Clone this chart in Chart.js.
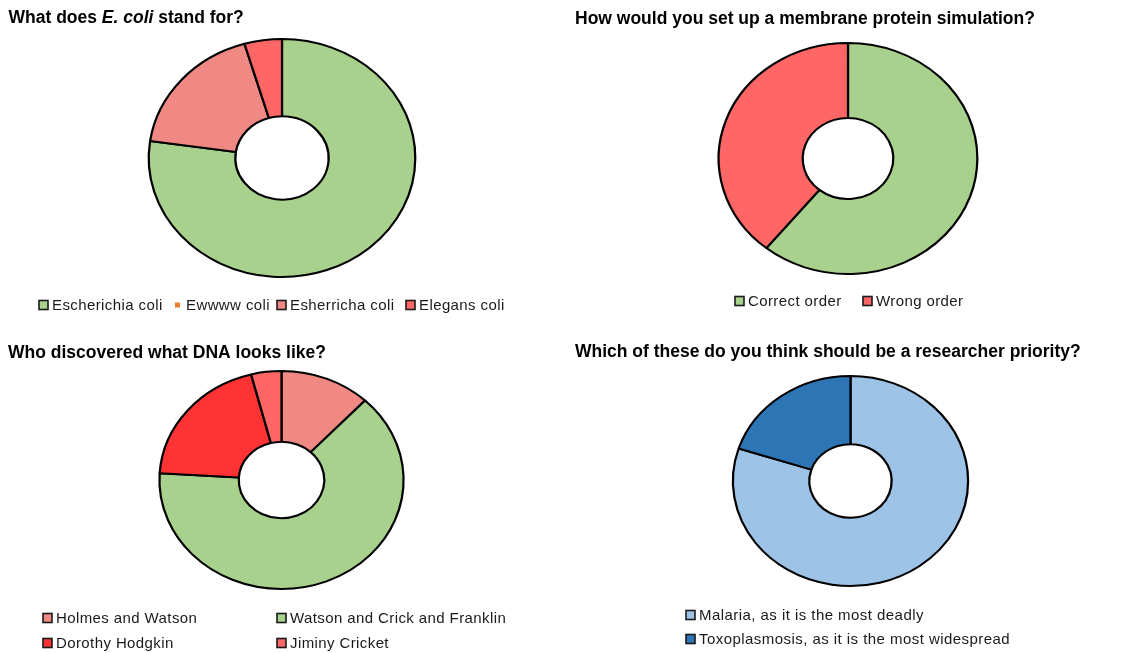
<!DOCTYPE html>
<html><head><meta charset="utf-8">
<script src="https://cdn.jsdelivr.net/npm/chart.js@4.4.1/dist/chart.umd.min.js"></script>
<style>
html,body{margin:0;padding:0;background:#fff;}
#wrap{position:relative;width:1122px;height:653px;overflow:hidden;background:#fff;}
canvas{position:absolute;}
</style></head><body>
<div id="wrap">
<canvas id="c1" width="561" height="326" style="left:0;top:0"></canvas>
<canvas id="c2" width="561" height="326" style="left:561px;top:0"></canvas>
<canvas id="c3" width="561" height="327" style="left:0;top:326px"></canvas>
<canvas id="c4" width="561" height="327" style="left:561px;top:326px"></canvas>
</div>
<script>
// ---- data ----
const ecoliTitle = [{text: 'What does '}, {text: 'E. coli', italic: true}, {text: ' stand for?'}];
const ecoliLabels = ['Escherichia coli', 'Ewwww coli', 'Esherricha coli', 'Elegans coli'];
const ecoliValues = [17, 0, 4, 1];

const membraneTitle = [{text: 'How would you set up a membrane protein simulation?'}];
const membraneLabels = ['Correct order', 'Wrong order'];
const membraneValues = [14, 9];

const dnaTitle = [{text: 'Who discovered what DNA looks like?'}];
const dnaLabels = ['Holmes and Watson', 'Watson and Crick and Franklin', 'Dorothy Hodgkin', 'Jiminy Cricket'];
const dnaValues = [3, 16, 5, 1];

const priorityTitle = [{text: 'Which of these do you think should be a researcher priority?'}];
const priorityLabels = ['Malaria, as it is the most deadly', 'Toxoplasmosis, as it is the most widespread'];
const priorityValues = [20, 5];

// ---- styles ----
const GREEN = '#A9D18E', PINK = '#F08884', LIGHTRED = '#FF6666', RED = '#FF3333', ORANGE = '#ED7D31';
const LIGHTBLUE = '#9DC3E6', BLUE = '#2E75B6';
const FONT = '"Liberation Sans", Arial, sans-serif';

const ellipsePlugin = {
  id: 'ellipse',
  beforeDatasetsDraw(chart, args, opts) {
    const arc = chart.getDatasetMeta(0).data[0];
    const ctx = chart.ctx;
    ctx.save();
    ctx.translate(arc.x, arc.y);
    ctx.scale(opts.sx || 1, 1);
    ctx.translate(-arc.x, -arc.y);
  },
  afterDatasetsDraw(chart) { chart.ctx.restore(); }
};

const richTitle = {
  id: 'richTitle',
  afterDraw(chart, args, opts) {
    const ctx = chart.ctx;
    ctx.save();
    ctx.fillStyle = '#000';
    ctx.textBaseline = 'middle';
    let x = opts.x;
    for (const seg of opts.segments) {
      ctx.font = (seg.italic ? 'italic ' : '') + 'bold ' + opts.size + 'px ' + FONT;
      ctx.fillText(seg.text, x, opts.y);
      x += ctx.measureText(seg.text).width;
    }
    ctx.restore();
  }
};

const boxLegend = {
  id: 'boxLegend',
  afterDraw(chart, args, opts) {
    const ctx = chart.ctx;
    const ds = chart.data.datasets[0];
    ctx.save();
    ctx.font = opts.size + 'px ' + FONT;
    if ('letterSpacing' in ctx) ctx.letterSpacing = opts.spacing + 'px';
    ctx.textBaseline = 'middle';
    chart.data.labels.forEach((lab, i) => {
      const bx = opts.pos[i][0], by = opts.pos[i][1];
      const s = 9;
      ctx.fillStyle = ds.backgroundColor[i];
      if (ds.data[i] === 0) {
        ctx.fillRect(bx + 2, by - 2.5, 5, 5);
      } else {
        ctx.fillRect(bx, by - s / 2, s, s);
        ctx.strokeStyle = '#1a1a1a';
        ctx.lineWidth = 1.6;
        ctx.strokeRect(bx, by - s / 2, s, s);
      }
      ctx.fillStyle = '#1a1a1a';
      ctx.fillText(lab, bx + s + 4, by + 0.5);
    });
    ctx.restore();
  }
};

function makeDonut(id, labels, values, colors, padding, title, legend) {
  return new Chart(document.getElementById(id), {
    type: 'doughnut',
    data: {
      labels: labels,
      datasets: [{
        data: values,
        backgroundColor: colors,
        borderColor: '#000',
        borderWidth: 2,
        hoverOffset: 0,
        clip: false
      }]
    },
    options: {
      responsive: false,
      animation: false,
      cutout: '35%',
      layout: { padding: padding },
      plugins: {
        legend: { display: false },
        title: { display: false },
        tooltip: { enabled: false },
        ellipse: { sx: 1.12 },
        richTitle: title,
        boxLegend: legend
      }
    },
    plugins: [ellipsePlugin, richTitle, boxLegend]
  });
}

makeDonut('c1', ecoliLabels, ecoliValues, [GREEN, ORANGE, PINK, LIGHTRED],
  { top: 38, bottom: 48, left: 141, right: 138 },
  { segments: ecoliTitle, x: 8.5, y: 18.5, size: 17.5 },
  { size: 15, spacing: 0.4, pos: [[39, 305], [173, 305], [277, 305], [406, 305]] });

makeDonut('c2', membraneLabels, membraneValues, [GREEN, LIGHTRED],
  { top: 42, bottom: 51, left: 151, right: 138 },
  { segments: membraneTitle, x: 14, y: 19.5, size: 17.5 },
  { size: 15, spacing: 0.4, pos: [[174, 301], [302, 301]] });

makeDonut('c3', dnaLabels, dnaValues, [PINK, GREEN, RED, LIGHTRED],
  { top: 44, bottom: 63, left: 151.5, right: 149.5 },
  { segments: dnaTitle, x: 8, y: 27, size: 17.5 },
  { size: 15, spacing: 0.4, pos: [[43, 292], [277, 292], [43, 317], [277, 317]] });

makeDonut('c4', priorityLabels, priorityValues, [LIGHTBLUE, BLUE],
  { top: 49, bottom: 66, left: 165.5, right: 147.5 },
  { segments: priorityTitle, x: 14, y: 26, size: 17.5 },
  { size: 15, spacing: 0.45, pos: [[125, 289], [125, 313]] });
</script>
</body></html>
